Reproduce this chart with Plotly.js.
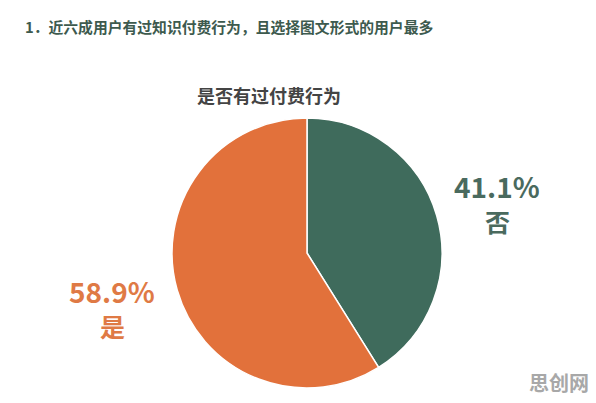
<!DOCTYPE html>
<html>
<head>
<meta charset="utf-8">
<script src="https://cdn.plot.ly/plotly-3.0.1.min.js"></script>
<style>
  html, body { margin: 0; padding: 0; background: #fff; }
  #chart_div { width: 596px; height: 403px; }
</style>
</head>
<body>
<div id="chart_div"></div>
<script>
// slice data, green "否" first then orange "是" (clockwise from 12 o'clock)
var labels = ['否', '是'];
var values = [41.1, 58.9];
var colors = ['#3f6b5c', '#e2713b'];
var labelColors = ['#4a6a5e', '#df7a45'];

var font = '"Noto Sans CJK SC", "Noto Sans", sans-serif';

// the percentage + name labels sit far outside the pie, so they are annotations
// [x, y where the percent line ends and the name line starts] in paper units
var labelPos = [[0.834, 0.494], [0.188, 0.233]];
var annotations = [];
for (var i = 0; i < labels.length; i++) {
	annotations.push({
		xref: 'paper', yref: 'paper',
		x: labelPos[i][0], y: labelPos[i][1],
		xanchor: 'center', yanchor: 'bottom',
		showarrow: false, borderpad: 0, height: 34,
		text: '<b>' + values[i].toFixed(1) + '%</b>',
		font: { family: font, size: 28, color: labelColors[i] }
	});
	annotations.push({
		xref: 'paper', yref: 'paper',
		x: labelPos[i][0], y: labelPos[i][1],
		xanchor: 'center', yanchor: 'top',
		showarrow: false, borderpad: 0, height: 32,
		text: '<b>' + labels[i] + '</b>',
		font: { family: font, size: 25, color: labelColors[i] }
	});
}

// heading, chart title and watermark
annotations.push({
	xref: 'paper', yref: 'paper', x: 0.038, y: 0.935,
	xanchor: 'left', yanchor: 'middle', showarrow: false,
	text: '<b>1．近六成用户有过知识付费行为，且选择图文形式的用户最多</b>',
	font: { family: font, size: 14.8, color: '#3d5a4e' }
});
annotations.push({
	xref: 'paper', yref: 'paper', x: 0.451, y: 0.765,
	xanchor: 'center', yanchor: 'middle', showarrow: false,
	text: '<b>是否有过付费行为</b>',
	font: { family: font, size: 18, color: '#444444' }
});
annotations.push({
	xref: 'paper', yref: 'paper', x: 0.992, y: 0.05,
	xanchor: 'right', yanchor: 'middle', showarrow: false,
	text: '<b>思创网</b>',
	font: { family: font, size: 20, color: '#a8a8a8' }
});

var data = [{
	type: 'pie',
	labels: labels,
	values: values,
	sort: false,
	direction: 'clockwise',
	rotation: 0,
	textinfo: 'none',
	hoverinfo: 'label+percent',
	marker: { colors: colors, line: { color: '#ffffff', width: 1.5 } },
	domain: { x: [0.2886, 0.7416], y: [0.0372, 0.7072] }
}];

var layout = {
	width: 596,
	height: 403,
	margin: { l: 0, r: 0, t: 0, b: 0 },
	showlegend: false,
	paper_bgcolor: '#ffffff',
	annotations: annotations
};

Plotly.newPlot('chart_div', data, layout, { displayModeBar: false, staticPlot: true });
</script>
</body>
</html>
